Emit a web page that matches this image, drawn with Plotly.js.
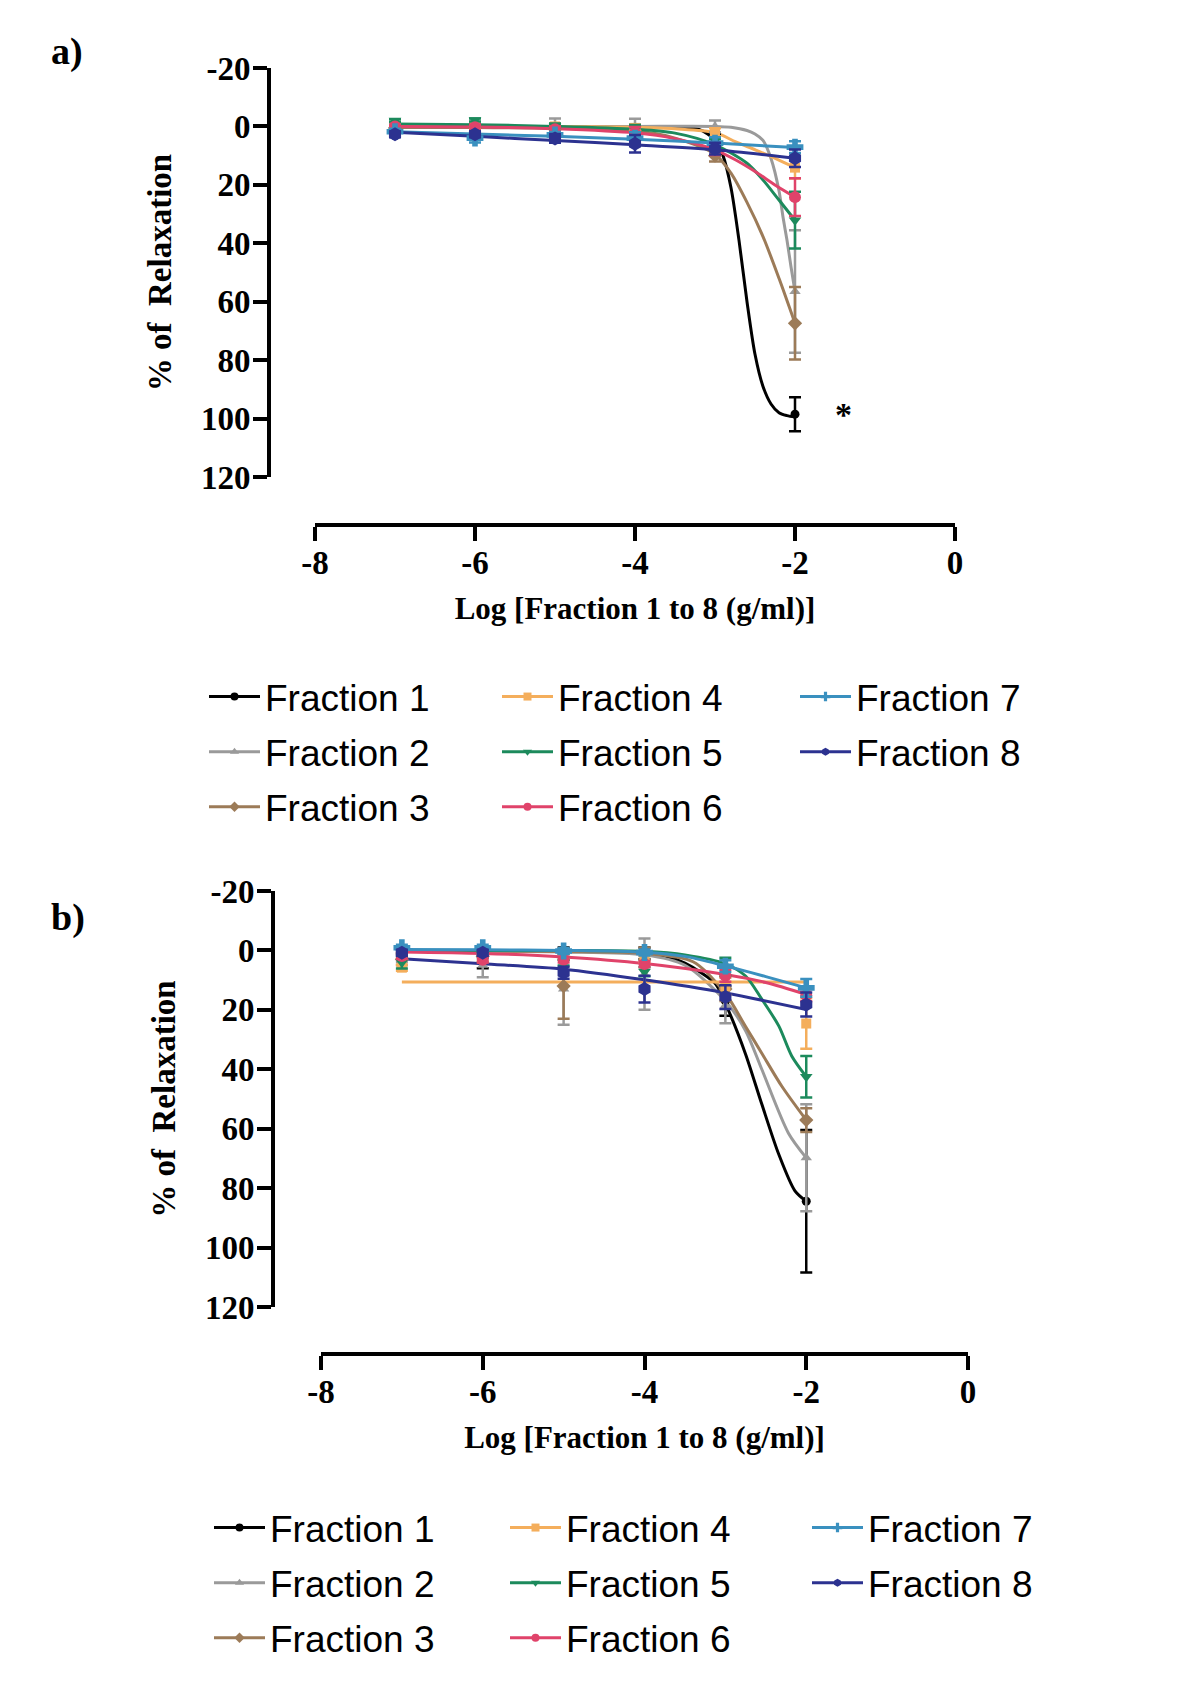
<!DOCTYPE html>
<html>
<head>
<meta charset="utf-8">
<script src="https://cdn.plot.ly/plotly-3.0.1.min.js"></script>
<style>html,body{margin:0;padding:0;background:#fff;}#chart{width:1200px;height:1702px;}</style>
</head>
<body>
<div id="chart"></div>
<script>
// ---------- data ----------
const fractions = ['Fraction 1','Fraction 2','Fraction 3','Fraction 4','Fraction 5','Fraction 6','Fraction 7','Fraction 8'];
const logDose = [-7, -6, -5, -4, -3, -2];

// Panel a) means and SEM (% of relaxation)
const meanA = [
  [0.3, 0.2, 0.3, 0.5, 4.5, 98.5],
  [0.0, -0.5, 0.0, 0.0, 0.0, 56.5],
  [0.5, 0.5, 1.0, 1.5, 10.0, 67.4],
  [0.0, 0.0, 0.0, 0.5, 2.1, 14.1],
  [-2.0, -2.2, 0.0, 1.0, 6.3, 32.1],
  [0.0, 0.3, 1.0, 2.2, 7.8, 24.2],
  [1.8, 4.0, 2.9, 4.0, 5.7, 7.1],
  [2.7, 2.7, 4.1, 5.9, 7.6, 10.9]
];
const semA = [
  [1.0, 1.0, 1.0, 1.0, 2.0, 5.8],
  [1.0, 1.0, 2.7, 2.6, 2.0, 21.0],
  [1.0, 1.0, 1.5, 2.0, 2.0, 12.4],
  [0.5, 0.5, 1.0, 1.0, 1.5, 3.7],
  [0.5, 0.5, 1.0, 1.5, 2.0, 9.7],
  [0.5, 1.0, 1.0, 2.0, 2.0, 6.5],
  [1.0, 1.5, 1.0, 2.0, 2.0, 2.0],
  [1.0, 1.0, 1.5, 3.0, 2.0, 3.0]
];
// Panel a) fitted curves (read off the figure)
const fitXA = [
  [-7, -6, -5, -4, -3.5, -3.2, -3, -2.9, -2.8, -2.7, -2.6, -2.5, -2.4, -2.3, -2.2, -2.1, -2],
  [-7, -6, -5, -4, -3, -2.8, -2.6, -2.5, -2.4, -2.3, -2.2, -2.15, -2.1, -2.05, -2],
  [-7, -6, -5, -4, -3.5, -3, -2.8, -2.6, -2.4, -2.2, -2],
  [-7, -6, -5, -4, -3.5, -3, -2.74, -2.49, -2.24, -2],
  [-7, -6, -5, -4, -3.5, -3, -2.6, -2.4, -2.2, -2],
  [-7, -6, -5, -4, -3.5, -3, -2.74, -2.49, -2.24, -2],
  [-7, -6, -5, -4, -3, -2],
  [-7, -6, -5, -4, -3, -2]
];
const fitYA = [
  [0.2, 0.2, 0.2, 0.2, 0.3, 1.0, 4.6, 10, 21, 39, 60, 78, 89, 95, 98, 99, 99.5],
  [0, 0, 0, 0, 0, 0.3, 1.4, 2.6, 4.8, 11, 22, 31, 39, 48, 56.5],
  [0.3, 0.4, 0.6, 1.5, 4.0, 9.5, 16, 26, 37.7, 52, 67.4],
  [0, 0, 0, 0.3, 0.8, 2.1, 5.3, 8.1, 11, 14.1],
  [-0.8, -0.6, 0, 1.0, 2.3, 6.3, 12.6, 18.3, 25.2, 32.1],
  [0, 0.2, 0.8, 2.2, 4.2, 8.0, 11.5, 15.6, 20.2, 24.2],
  [1.8, 2.6, 3.4, 4.4, 5.7, 7.2],
  [2.0, 3.4, 4.8, 6.3, 8.0, 10.9]
];

// Panel b) means and SEM
const meanB = [
  [0.0, 3.0, 0.0, 1.0, 17.0, 84.4],
  [2.0, 5.0, 13.0, 8.0, 18.5, 69.8],
  [3.0, 2.0, 12.0, 1.0, 13.0, 57.1],
  [5.8, 2.5, 2.0, 3.0, 12.0, 24.6],
  [4.1, 1.5, 4.1, 7.2, 5.5, 42.5],
  [1.9, 3.1, 3.1, 4.6, 8.5, 15.1],
  [-0.9, -0.9, 0.2, 0.7, 5.3, 12.6],
  [0.8, 0.8, 7.5, 13.0, 15.7, 18.2]
];
const semB = [
  [1.0, 3.0, 1.0, 2.0, 5.0, 24.0],
  [2.0, 4.0, 12.0, 12.0, 6.0, 18.0],
  [2.0, 2.0, 11.0, 2.0, 4.0, 4.0],
  [1.0, 1.0, 1.0, 1.0, 3.0, 8.5],
  [2.0, 1.0, 1.0, 1.5, 3.0, 7.0],
  [1.0, 1.0, 1.0, 1.0, 2.0, 2.0],
  [1.0, 1.0, 1.0, 1.0, 2.0, 3.0],
  [1.0, 1.0, 2.0, 4.5, 4.0, 4.0]
];
const fitXB = [
  [-7, -6, -5, -4, -3.7, -3.5, -3.3, -3.12, -2.96, -2.75, -2.55, -2.34, -2.14, -2],
  [-7, -6, -5, -4, -3.5, -3, -2.75, -2.55, -2.22, -2],
  [-7, -6, -5, -4, -3.4, -3, -2.75, -2.55, -2.3, -2],
  [-7, -6, -5, -4, -3, -2],
  [-7, -6, -5, -4, -3.5, -3, -2.75, -2.55, -2.34, -2.18, -2],
  [-7, -6, -5, -4, -3, -2.5, -2],
  [-7, -6, -5, -4, -3.5, -3, -2.5, -2],
  [-7, -6, -5, -4, -3, -2]
];
const fitYB = [
  [0, 0, 0.2, 0.8, 2.2, 4.3, 7.5, 11.3, 20.3, 34.9, 51.7, 68.6, 80.9, 84.4],
  [0, 0.2, 0.5, 1.5, 5.0, 17, 27, 40, 61.5, 69.8],
  [0, 0.2, 0.4, 1.0, 3.8, 14.5, 25.6, 34.6, 45.8, 57.1],
  [10.6, 10.6, 10.6, 10.6, 10.6, 10.6],
  [0, 0, 0, 0.3, 1.5, 4.5, 8.6, 16.4, 25.4, 35.5, 42.5],
  [0.5, 1.0, 2.2, 4.4, 8.1, 10.8, 14.8],
  [-0.3, -0.2, 0, 0.6, 2.0, 5.2, 8.8, 12.6],
  [2.8, 4.5, 6.3, 9.9, 14.3, 19.9]
];

const yTicks = [-20, 0, 20, 40, 60, 80, 100, 120];
const xTicks = [-8, -6, -4, -2, 0];

// ---------- styles ----------
const colors = ['#000000', '#9a9a9a', '#9c7b58', '#f4ae5c', '#1c8a5c', '#e0436a', '#3a90bf', '#2c3290'];
const symbols = ['circle', 'triangle-up', 'diamond', 'square', 'triangle-down', 'circle', 'cross', 'hexagon'];
const msizes = [9, 10, 11, 10, 11, 12, 14, 14];

const W = 1200, H = 1702;
const px = v => v / W;
const py = v => 1 - v / H;

const serif = 'Liberation Serif, Times New Roman, serif';
const sans = 'Liberation Sans, Arial, sans-serif';

const traces = [];
function addPanel(mean, sem, fitX, fitY, xa, ya, legendIds) {
  for (let i = 0; i < 8; i++) {
    traces.push({
      type: 'scatter', mode: 'lines', x: fitX[i], y: fitY[i], xaxis: xa, yaxis: ya,
      line: {color: colors[i], width: 3, shape: 'spline', smoothing: 0.8},
      showlegend: false, hoverinfo: 'skip'
    });
  }
  for (let i = 0; i < 8; i++) {
    traces.push({
      type: 'scatter', mode: 'markers', x: logDose, y: mean[i], xaxis: xa, yaxis: ya,
      name: fractions[i],
      marker: {color: colors[i], symbol: symbols[i], size: msizes[i]},
      error_y: {type: 'data', array: sem[i], visible: true, color: colors[i], thickness: 2.5, width: 6},
      showlegend: false
    });
  }
  // legend entries (line + marker)
  for (let i = 0; i < 8; i++) {
    const col = i < 3 ? 0 : (i < 6 ? 1 : 2);
    traces.push({
      type: 'scatter', mode: 'lines+markers', x: [null], y: [null], xaxis: xa, yaxis: ya,
      name: fractions[i], legend: legendIds[col], legendgroup: legendIds[col] + '_' + i,
      line: {color: colors[i], width: 3},
      marker: {color: colors[i], symbol: symbols[i], size: 8},
      showlegend: true
    });
  }
}
addPanel(meanA, semA, fitXA, fitYA, 'x', 'y', ['legend', 'legend2', 'legend3']);
addPanel(meanB, semB, fitXB, fitYB, 'x2', 'y2', ['legend4', 'legend5', 'legend6']);

const tickFont = {family: serif, size: 33, color: '#000', weight: 'bold'};
const titleFont = {family: serif, size: 31, color: '#000', weight: 'bold'};

function yAxis(domTop, domBot, posX) {
  return {
    domain: [py(domBot), py(domTop)], range: [120, -20], anchor: 'free', position: px(posX),
    tickvals: yTicks, ticktext: yTicks.map(String),
    showline: true, linewidth: 4, linecolor: '#000', ticks: 'outside', ticklen: 14, tickwidth: 4, tickcolor: '#000',
    ticklabelstandoff: -4,
    showgrid: false, zeroline: false, tickfont: tickFont,
    title: {text: '% of\u00a0 Relaxation', font: {family: serif, size: 33, color: '#000', weight: 'bold'}, standoff: 18}
  };
}
function xAxis(left, right, posY) {
  return {
    domain: [px(left), px(right)], range: [-8, 0], anchor: 'free', position: py(posY),
    tickvals: xTicks, ticktext: xTicks.map(String),
    showline: true, linewidth: 4, linecolor: '#000', ticks: 'outside', ticklen: 14, tickwidth: 4, tickcolor: '#000',
    ticklabelstandoff: -7,
    showgrid: false, zeroline: false, tickfont: tickFont,
    title: {text: 'Log [Fraction 1 to 8 (g/ml)]', font: titleFont, standoff: 17}
  };
}
function legendAt(left, top) {
  return {
    x: px(left), y: py(top), xanchor: 'left', yanchor: 'top', orientation: 'v',
    traceorder: 'grouped', tracegroupgap: 4, bgcolor: 'rgba(0,0,0,0)', borderwidth: 0,
    itemwidth: 51,
    font: {family: sans, size: 37, color: '#000'}
  };
}

const layout = {
  width: W, height: H, margin: {l: 0, r: 0, t: 0, b: 0},
  paper_bgcolor: '#fff', plot_bgcolor: '#fff',
  xaxis: xAxis(315, 955, 525),
  yaxis: yAxis(68, 477, 269),
  xaxis2: xAxis(321, 968, 1354),
  yaxis2: yAxis(891, 1307, 273),
  legend: legendAt(204, 666),
  legend2: legendAt(497, 666),
  legend3: legendAt(795, 666),
  legend4: legendAt(209, 1497),
  legend5: legendAt(505, 1497),
  legend6: legendAt(807, 1497),
  annotations: [
    {text: 'a)', xref: 'paper', yref: 'paper', x: px(67), y: py(51), xanchor: 'center', yanchor: 'middle', showarrow: false,
     font: {family: serif, size: 38, color: '#000', weight: 'bold'}},
    {text: 'b)', xref: 'paper', yref: 'paper', x: px(68), y: py(918), xanchor: 'center', yanchor: 'middle', showarrow: false,
     font: {family: serif, size: 38, color: '#000', weight: 'bold'}},
    {text: '*', xref: 'x', yref: 'y', x: logDose[5] + 0.6, y: meanA[0][5], showarrow: false,
     font: {family: serif, size: 34, color: '#000', weight: 'bold'}}
  ]
};

Plotly.newPlot('chart', traces, layout, {staticPlot: true});
</script>
</body>
</html>
